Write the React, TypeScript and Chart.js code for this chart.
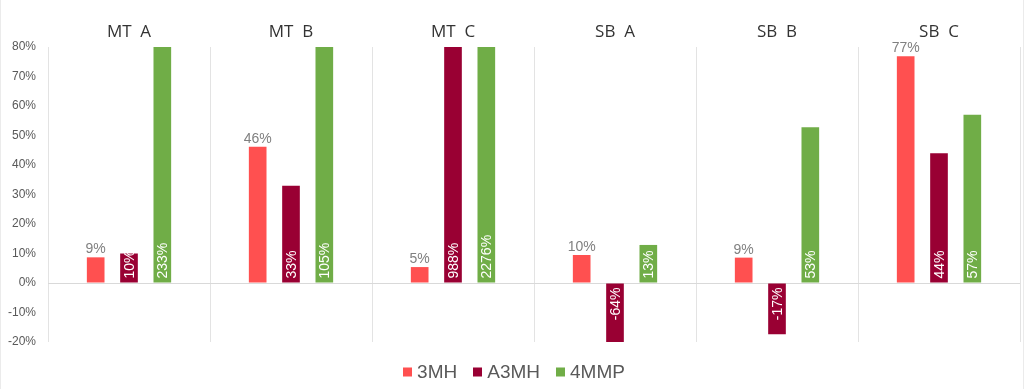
import React, { useEffect, useRef } from 'react';
import { Chart, registerables } from 'chart.js';

Chart.register(...registerables);

const categories = ['MT  A', 'MT  B', 'MT  C', 'SB  A', 'SB  B', 'SB  C'];
const seriesNames = ['3MH', 'A3MH', '4MMP'];
const values3MH = [8.7, 46.2, 5.4, 9.5, 8.6, 76.9];
const valuesA3MH = [10, 33, 988, -64, -17.4, 44];
const values4MMP = [233, 105, 2276, 12.9, 52.8, 57];
const yMin = -20;
const yMax = 80;
const yStep = 10;
const seriesColors = ['#FF5050', '#990033', '#70AD47'];

const LABEL_FONT = '14px "Liberation Sans", Arial, sans-serif';

const labelPlugin = {
  id: 'barLabels',
  afterDatasetsDraw(chart: any) {
    const ctx = chart.ctx;
    const area = chart.chartArea;
    chart.data.datasets.forEach((ds: any, di: number) => {
      const meta = chart.getDatasetMeta(di);
      meta.data.forEach((bar: any, i: number) => {
        const v = ds.data[i] as number;
        const txt = Math.round(v) + '%';
        const { x, y, base } = bar.getProps(['x', 'y', 'base'], true);
        ctx.save();
        ctx.font = LABEL_FONT;
        if (di === 0) {
          ctx.fillStyle = '#808080';
          ctx.textAlign = 'center';
          ctx.textBaseline = 'alphabetic';
          ctx.fillText(txt, x, Math.max(y, area.top) - 4);
        } else {
          ctx.fillStyle = '#FFFFFF';
          ctx.translate(x, base + (v >= 0 ? -4 : 4));
          ctx.rotate(-Math.PI / 2);
          ctx.textAlign = v >= 0 ? 'left' : 'right';
          ctx.textBaseline = 'middle';
          ctx.fillText(txt, 0, 1);
        }
        ctx.restore();
      });
    });
  },
};

const legendPlugin = {
  id: 'customLegend',
  afterDraw(chart: any) {
    const ctx = chart.ctx;
    ctx.save();
    ctx.font = '19px "Liberation Sans", Arial, sans-serif';
    const box = 9;
    const gapText = 5;
    const gapItem = 16;
    const items = chart.data.datasets.map((ds: any) => ({
      label: ds.label as string,
      color: ds.backgroundColor as string,
      w: ctx.measureText(ds.label).width,
    }));
    const total =
      items.reduce((s: number, it: any) => s + box + gapText + it.w, 0) + gapItem * (items.length - 1);
    let x = 514 - total / 2;
    const cy = 373;
    items.forEach((it: any) => {
      ctx.fillStyle = it.color;
      ctx.fillRect(Math.round(x), cy - box / 2 - 1, box, box);
      ctx.fillStyle = '#595959';
      ctx.textAlign = 'left';
      ctx.textBaseline = 'middle';
      ctx.fillText(it.label, x + box + gapText, cy);
      x += box + gapText + it.w + gapItem;
    });
    // faint outer border
    ctx.strokeStyle = '#EBEBEB';
    ctx.lineWidth = 1;
    ctx.beginPath();
    ctx.moveTo(0.5, 0);
    ctx.lineTo(0.5, chart.height);
    ctx.moveTo(chart.width - 0.5, 0);
    ctx.lineTo(chart.width - 0.5, chart.height);
    ctx.stroke();
    ctx.restore();
  },
};

export default function App() {
  const ref = useRef<HTMLCanvasElement | null>(null);

  useEffect(() => {
    if (!ref.current) return;
    const chart = new Chart(ref.current, {
      type: 'bar',
      data: {
        labels: categories,
        datasets: [
          { label: seriesNames[0], data: values3MH, backgroundColor: seriesColors[0] },
          { label: seriesNames[1], data: valuesA3MH, backgroundColor: seriesColors[1] },
          { label: seriesNames[2], data: values4MMP, backgroundColor: seriesColors[2] },
        ].map((d) => ({ ...d, categoryPercentage: 0.617, barPercentage: 0.53, borderWidth: 0 })),
      },
      options: {
        animation: false,
        responsive: true,
        maintainAspectRatio: false,
        layout: { padding: { left: 0, right: 4, top: 0, bottom: 47 } },
        plugins: {
          legend: { display: false },
          tooltip: { enabled: false },
        },
        scales: {
          x: {
            position: 'top',
            grid: {
              display: true,
              offset: true,
              color: '#E3E3E3',
              lineWidth: 1,
              drawTicks: false,
            },
            border: { display: false },
            ticks: {
              color: '#333333',
              font: { family: '"Open Sans", "Segoe UI", sans-serif', size: 17 },
              padding: 5,
            },
            afterFit(scale: any) {
              scale.height = 47;
            },
          },
          y: {
            min: yMin,
            max: yMax,
            grid: {
              drawTicks: false,
              color: (c: any) => (c.tick && c.tick.value === 0 ? '#D9D9D9' : 'rgba(0,0,0,0)'),
            },
            border: { display: false },
            ticks: {
              stepSize: yStep,
              color: '#595959',
              font: { family: '"Liberation Sans", Arial, sans-serif', size: 12 },
              padding: 12,
              callback: (v: any) => v + '%',
            },
            afterFit(scale: any) {
              scale.width = 48;
            },
          },
        },
      },
      plugins: [labelPlugin, legendPlugin],
    });
    return () => chart.destroy();
  }, []);

  return (
    <div style={{ position: 'absolute', left: 0, top: 0, width: 1024, height: 389, background: '#fff' }}>
      <canvas ref={ref} />
    </div>
  );
}
